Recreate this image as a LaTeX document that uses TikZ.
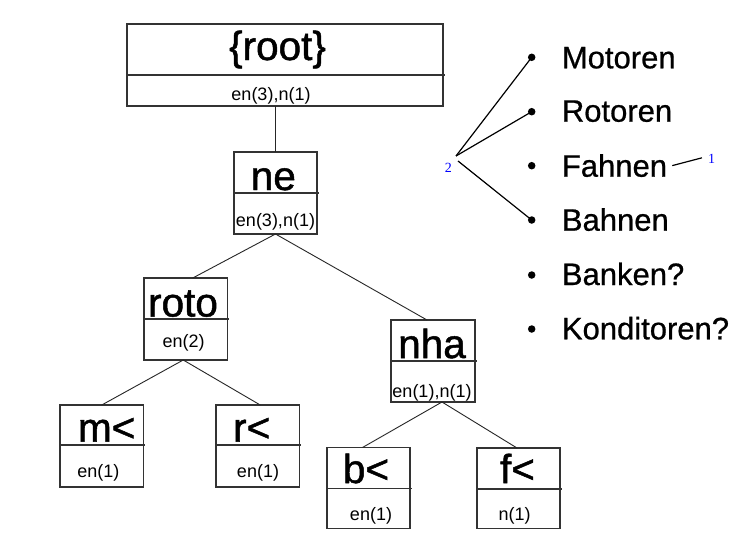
\documentclass[tikz,border=0pt]{standalone}
\usepackage{fontspec}
\setmainfont{Liberation Sans}
\newfontfamily\labfont{Liberation Serif}
\newfontfamily\heavyfont{Liberation Sans}[FakeBold=1.2]
\newfontfamily\midfont{Liberation Sans}[FakeBold=0.7]
\newcommand\tbox[6]{%
  \node[box, minimum width={(#4)-(#2)}, minimum height={(#6)-(#3)}] (#1) at ({((#2)+(#4))/2},{((#3)+(#6))/2}) {};
  \draw[box] (#2,#5) -- ({(#4)+1.5},#5);}
\begin{document}
\begin{tikzpicture}[x=1pt,y=-1pt,
  box/.style={draw=black!80, line width=1.3pt, inner sep=0pt, outer sep=0pt},
  big/.style={font=\heavyfont\fontsize{40.5}{40.5}\selectfont, inner sep=0pt, anchor=base},
  small/.style={font=\fontsize{18}{18}\selectfont, inner sep=0pt, anchor=base},
  edge/.style={line width=0.9pt, draw=black!85},
  item/.style={font=\midfont\fontsize{31}{31}\selectfont, inner sep=0pt, anchor=base west},
  dot/.style={circle, fill=black, inner sep=0pt, minimum size=7.5pt},
  lab/.style={font=\labfont\fontsize{14}{14}\selectfont, text=blue, inner sep=0pt},
  link/.style={line width=1.2pt, draw=black}]
\useasboundingbox (0,0) rectangle (752,552);
\fill[white] (0,0) rectangle (752,552);

% tree boxes
\tbox{root}{127}{24}{443}{75}{106}
\tbox{ne}{234}{152}{317}{193}{234}
\tbox{roto}{144}{278}{227.5}{319}{360}
\tbox{nha}{391}{320}{475}{361}{402}
\tbox{m}{60}{405}{143.5}{445}{487}
\tbox{r}{216}{405}{299.5}{445}{487}
\tbox{b}{327}{447.5}{410}{488.5}{528.5}
\tbox{f}{477}{448}{560}{489}{528.5}

% texts
\node[big] (rootT) at (277.5,60) {\{root\}};
\node[small] (rootB) at (271,100) {en(3),n(1)};
\node[big] (neT) at (273.3,190) {ne};
\node[small] (neB) at (275.5,226) {en(3),n(1)};
\node[big] (rotoT) at (183,316.5) {roto};
\node[small] (rotoB) at (183.7,347) {en(2)};
\node[big] (nhaT) at (432,358) {nha};
\node[small] (nhaB) at (432,397) {en(1),n(1)};
\node[big] (mT) at (106.7,441.5) {m<};
\node[small] (mB) at (98.3,477) {en(1)};
\node[big] (rT) at (251.7,441.5) {r<};
\node[small] (rB) at (258,477) {en(1)};
\node[big] (bT) at (366,483) {b<};
\node[small] (bB) at (371,520) {en(1)};
\node[big] (fT) at (517.5,483) {f<};
\node[small] (fB) at (514.7,520) {n(1)};

% tree connectors
\draw[edge] (ne.north) -- (ne.north |- root.south);
\draw[edge] (ne.south) -- ([xshift=7pt]roto.north);
\draw[edge] (ne.south) -- ([xshift=-6pt]nha.north);
\draw[edge] ([xshift=-2.5pt]roto.south) -- (m.north);
\draw[edge] ([xshift=-2.5pt]roto.south) -- ([xshift=2.5pt]r.north);
\draw[edge] ([xshift=9pt]nha.south) -- ([xshift=-6pt]b.north);
\draw[edge] ([xshift=9pt]nha.south) -- ([xshift=-1.5pt]f.north);

% list
\node[dot] (b1) at (531.7,57.3) {};
\node[dot] (b2) at (531.7,111.7) {};
\node[dot] (b3) at (531.7,165.7) {};
\node[dot] (b4) at (531.7,220) {};
\node[dot] (b5) at (531.7,275) {};
\node[dot] (b6) at (531.7,329) {};
\node[item] (motoren) at (561.7,68.3) {Motoren};
\node[item] (rotoren) at (561.7,121.7) {Rotoren};
\node[item] (fahnen) at (561.7,176.7) {Fahnen};
\node[item] (bahnen) at (561.7,230.7) {Bahnen};
\node[item] (banken) at (561.7,285) {Banken?};
\node[item] (konditoren) at (561.7,339.3) {Konditoren?};

% labels and links
\node[lab] (two) at (448.3,167.7) {2};
\node[lab] (one) at (711.7,159.3) {1};
\coordinate (fork1) at (456,156);
\coordinate (fork2) at (458,161);
\draw[link] (fork1) -- (b1.center);
\draw[link] (fork1) -- (b2.center);
\draw[link] (fork2) -- (b4.center);
\draw[link] ([xshift=5pt]fahnen.east) -- ([xshift=-6pt,yshift=1.5pt]one.west);
\end{tikzpicture}
\end{document}
